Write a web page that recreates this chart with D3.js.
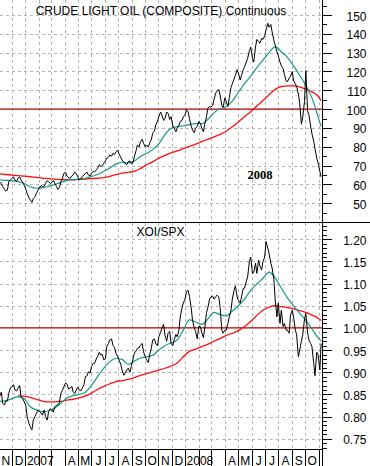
<!DOCTYPE html>
<html><head><meta charset="utf-8">
<script src="https://cdn.jsdelivr.net/npm/d3@7"></script>
<style>body{margin:0;background:#fff}svg{display:block}</style>
</head><body><svg id="c" width="370" height="466"></svg>
<script>
// ---------- data (twice-weekly readings from the picture) ----------
const dates = ["2006-11-03",
"2006-11-07","2006-11-10","2006-11-14","2006-11-17","2006-11-21","2006-11-24","2006-11-28","2006-12-01",
"2006-12-05","2006-12-08","2006-12-12","2006-12-15","2006-12-19","2006-12-22","2006-12-26","2006-12-29",
"2007-01-02","2007-01-05","2007-01-09","2007-01-12","2007-01-16","2007-01-19","2007-01-23","2007-01-26",
"2007-01-30","2007-02-02","2007-02-06","2007-02-09","2007-02-13","2007-02-16","2007-02-20","2007-02-23",
"2007-02-27","2007-03-02","2007-03-06","2007-03-09","2007-03-13","2007-03-16","2007-03-20","2007-03-23",
"2007-03-27","2007-03-30","2007-04-03","2007-04-06","2007-04-10","2007-04-13","2007-04-17","2007-04-20",
"2007-04-24","2007-04-27","2007-05-01","2007-05-04","2007-05-08","2007-05-11","2007-05-15","2007-05-18",
"2007-05-22","2007-05-25","2007-05-29","2007-06-01","2007-06-05","2007-06-08","2007-06-12","2007-06-15",
"2007-06-19","2007-06-22","2007-06-26","2007-06-29","2007-07-03","2007-07-06","2007-07-10","2007-07-13",
"2007-07-17","2007-07-20","2007-07-24","2007-07-27","2007-07-31","2007-08-03","2007-08-07","2007-08-10",
"2007-08-14","2007-08-17","2007-08-21","2007-08-24","2007-08-28","2007-08-31","2007-09-04","2007-09-07",
"2007-09-11","2007-09-14","2007-09-18","2007-09-21","2007-09-25","2007-09-28","2007-10-02","2007-10-05",
"2007-10-09","2007-10-12","2007-10-16","2007-10-19","2007-10-23","2007-10-26","2007-10-30","2007-11-02",
"2007-11-06","2007-11-09","2007-11-13","2007-11-16","2007-11-20","2007-11-23","2007-11-27","2007-11-30",
"2007-12-04","2007-12-07","2007-12-11","2007-12-14","2007-12-18","2007-12-21","2007-12-25","2007-12-28",
"2008-01-01","2008-01-04","2008-01-08","2008-01-11","2008-01-15","2008-01-18","2008-01-22","2008-01-25",
"2008-01-29","2008-02-01","2008-02-05","2008-02-08","2008-02-12","2008-02-15","2008-02-19","2008-02-22",
"2008-02-26","2008-02-29","2008-03-04","2008-03-07","2008-03-11","2008-03-14","2008-03-18","2008-03-21",
"2008-03-25","2008-03-28","2008-04-01","2008-04-04","2008-04-08","2008-04-11","2008-04-15","2008-04-18",
"2008-04-22","2008-04-25","2008-04-29","2008-05-02","2008-05-06","2008-05-09","2008-05-13","2008-05-16",
"2008-05-20","2008-05-23","2008-05-27","2008-05-30","2008-06-03","2008-06-06","2008-06-10","2008-06-13",
"2008-06-17","2008-06-20","2008-06-24","2008-06-27","2008-07-01","2008-07-04","2008-07-08","2008-07-11",
"2008-07-15","2008-07-18","2008-07-22","2008-07-25","2008-07-29","2008-08-01","2008-08-05","2008-08-08",
"2008-08-12","2008-08-15","2008-08-19","2008-08-22","2008-08-26","2008-08-29","2008-09-02","2008-09-05",
"2008-09-09","2008-09-12","2008-09-16","2008-09-19","2008-09-23","2008-09-26","2008-09-30","2008-10-03",
"2008-10-07","2008-10-10","2008-10-14","2008-10-17","2008-10-21","2008-10-24","2008-10-28","2008-10-31",
"2008-11-04","2008-11-07"];

const oil = [61.5,
60.5,58.9,57.5,56.5,57.0,61.5,62.5,63.3,
64.0,62.4,61.5,63.3,64.0,62.4,61.0,59.7,
57.5,55.3,53.0,51.8,50.5,52.5,53.5,55.3,
57.0,58.0,59.5,58.9,59.0,60.6,62.0,61.5,
60.5,61.0,62.0,60.6,59.0,57.4,58.5,61.5,
63.5,65.9,66.5,64.5,63.5,63.3,64.5,65.0,
66.5,65.9,64.0,62.4,63.0,64.2,65.0,65.9,
66.5,65.0,64.5,65.9,67.0,66.8,67.5,68.6,
70.5,69.5,70.0,71.2,72.5,73.9,74.5,75.7,
75.0,76.5,76.0,77.4,78.2,76.2,74.5,73.0,
71.8,71.2,70.5,72.1,72.5,71.2,71.5,74.8,
78.0,81.0,80.0,82.7,84.0,81.9,80.0,81.0,
79.8,81.9,84.0,87.2,88.5,91.6,93.5,96.0,
98.5,96.9,94.0,95.1,98.5,97.8,94.5,96.0,
91.0,89.8,88.0,89.8,91.5,93.4,94.0,96.0,
97.0,99.6,98.5,95.1,91.0,88.9,87.5,89.8,
91.0,93.4,92.5,90.0,88.0,92.0,96.0,100.5,
101.5,101.0,102.0,105.0,108.5,109.5,110.5,107.5,
102.0,101.0,106.0,104.0,101.5,106.0,111.5,113.5,
116.0,118.0,121.0,119.0,115.5,118.0,121.0,122.5,
125.0,127.0,131.0,133.0,127.0,125.0,133.0,137.0,
136.0,135.0,137.5,137.0,139.0,142.0,145.6,143.5,
145.0,141.0,136.5,134.0,130.5,128.5,125.0,123.0,
121.5,118.5,115.0,114.6,116.5,117.3,120.0,115.0,
113.5,112.0,108.0,103.0,92.0,96.0,104.0,120.5,
99.0,97.0,91.0,87.0,83.0,79.0,74.0,71.5,
67.0,64.0];

const xoiSpx = [0.845,
0.855,0.830,0.826,0.834,0.835,0.852,0.865,0.867,
0.872,0.860,0.858,0.864,0.870,0.845,0.840,0.834,
0.825,0.800,0.785,0.777,0.770,0.792,0.800,0.807,
0.815,0.811,0.808,0.803,0.815,0.800,0.792,0.811,
0.818,0.815,0.810,0.822,0.825,0.826,0.832,0.852,
0.860,0.867,0.876,0.873,0.862,0.864,0.868,0.856,
0.852,0.860,0.866,0.860,0.858,0.864,0.872,0.890,
0.892,0.901,0.898,0.913,0.920,0.920,0.930,0.935,
0.945,0.939,0.940,0.928,0.930,0.958,0.965,0.973,
0.975,0.961,0.955,0.943,0.935,0.928,0.918,0.905,
0.893,0.898,0.905,0.909,0.900,0.913,0.930,0.943,
0.948,0.954,0.955,0.961,0.965,0.946,0.935,0.928,
0.922,0.939,0.955,0.973,0.975,0.965,0.960,0.980,
0.990,0.999,1.008,0.984,0.970,0.988,0.992,0.965,
0.960,0.973,0.985,0.980,0.995,1.025,1.045,1.056,
1.065,1.082,1.085,1.071,1.045,1.018,1.000,0.992,
0.975,1.003,1.003,0.990,0.978,1.000,1.035,1.045,
1.065,1.070,1.072,1.065,1.070,1.074,1.070,1.048,
0.995,0.988,0.995,0.995,1.010,1.025,1.040,1.065,
1.085,1.095,1.070,1.062,1.056,1.070,1.089,1.090,
1.105,1.115,1.150,1.160,1.123,1.125,1.146,1.123,
1.153,1.140,1.131,1.150,1.160,1.195,1.180,1.168,
1.146,1.135,1.110,1.063,1.025,1.056,1.010,1.040,
1.003,1.010,0.995,0.995,0.988,1.029,1.040,1.025,
0.995,0.985,0.935,0.950,0.970,0.985,1.020,1.033,
0.990,0.973,0.965,0.958,0.920,0.892,0.945,0.940,
0.905,0.965];

// moving averages, read every two weeks
const maDates = ["2006-11-03","2006-11-17","2006-12-01","2006-12-15","2006-12-29","2007-01-12","2007-01-26","2007-02-09","2007-02-23","2007-03-09","2007-03-23","2007-04-06","2007-04-20","2007-05-04","2007-05-18","2007-06-01","2007-06-15","2007-06-29","2007-07-13","2007-07-27","2007-08-10","2007-08-24","2007-09-07","2007-09-21","2007-10-05","2007-10-19","2007-11-02","2007-11-16","2007-11-30","2007-12-14","2007-12-28","2008-01-11","2008-01-25","2008-02-08","2008-02-22","2008-03-07","2008-03-21","2008-04-04","2008-04-18","2008-05-02","2008-05-16","2008-05-30","2008-06-13","2008-06-27","2008-07-11","2008-07-25","2008-08-08","2008-08-22","2008-09-05","2008-09-19","2008-10-03","2008-10-17","2008-10-31","2008-11-07"];

const oilMaShort = [62.4,62.2,62.0,61.5,60.5,58.8,58.0,58.2,59.0,60.0,61.0,62.2,62.6,62.8,63.3,64.2,65.3,67.0,68.8,70.8,71.8,71.5,72.5,74.8,76.5,78.5,81.5,86.5,89.8,90.7,91.2,91.8,92.3,92.3,94.5,98.0,100.3,101.3,104.3,109.0,113.5,117.5,122.0,126.0,130.0,133.2,130.5,127.5,123.0,118.0,112.5,106.0,96.0,90.7];
const oilMaLong = [65.6,65.3,65.0,64.7,64.4,64.1,63.8,63.4,63.1,62.8,62.6,62.5,62.5,62.7,62.9,63.1,63.3,63.6,64.3,65.2,66.0,66.5,67.0,68.5,70.5,72.0,74.0,75.5,76.8,77.8,79.0,80.2,81.4,82.7,84.0,85.3,86.6,88.3,90.6,93.2,96.0,98.6,101.7,104.6,107.6,110.5,112.0,112.4,112.4,111.8,110.6,109.2,107.0,104.5];
const ratioMaShort = [0.834,0.836,0.840,0.845,0.840,0.822,0.815,0.811,0.813,0.819,0.830,0.842,0.847,0.850,0.855,0.870,0.890,0.909,0.924,0.931,0.929,0.918,0.925,0.932,0.935,0.938,0.950,0.960,0.966,0.973,0.995,1.018,1.014,1.008,1.020,1.035,1.030,1.027,1.038,1.050,1.065,1.085,1.099,1.112,1.126,1.113,1.090,1.068,1.050,1.033,1.017,0.998,0.978,0.970];
const ratioMaLong = [null,null,null,0.846,0.846,0.843,0.839,0.835,0.833,0.833,0.834,0.837,0.839,0.842,0.846,0.853,0.861,0.868,0.874,0.879,0.881,0.884,0.888,0.893,0.897,0.901,0.905,0.909,0.914,0.921,0.935,0.947,0.952,0.958,0.963,0.970,0.976,0.983,0.988,0.994,1.003,1.015,1.028,1.040,1.047,1.050,1.048,1.046,1.043,1.039,1.035,1.029,1.022,1.017];

const oilTicks = [50,60,70,80,90,100,110,120,130,140,150];
const oilMinor = [45,55,65,75,85,95,105,115,125,135,145,155];
const ratioTicks = [0.75,0.80,0.85,0.90,0.95,1.00,1.05,1.10,1.15,1.20];
const ratioMinor = d3.range(73,124).map(d => d/100); // tick marks every 0.01
const monthLabels = ["N","D","2007","","","A","M","J","J","A","S","O","N","D","2008","","","A","M","J","J","A","S","O"];
const oilRef = 100, ratioRef = 1.00;

// ---------- layout ----------
const svg = d3.select("#c");
const PR = 322, T0 = 0, T1 = 222.5, B0 = 222.5, B1 = 449;
const parse = d3.timeParse("%Y-%m-%d");
const x = d3.scaleTime().domain([new Date(2006,10,4), new Date(2008,10,9)]).range([0, PR]);
const yTop = d3.scaleLinear().domain([50,150]).range([203.3,15]);
const yBot = d3.scaleLinear().domain([0.75,1.20]).range([438.7,239.3]);

const defs = svg.append("defs");
defs.append("clipPath").attr("id","cTop").append("rect").attr("x",0).attr("y",T0).attr("width",PR).attr("height",T1-T0);
defs.append("clipPath").attr("id","cBot").append("rect").attr("x",0).attr("y",B0).attr("width",PR).attr("height",B1-B0);

const months = d3.timeMonth.range(new Date(2006,11,1), new Date(2008,10,2));
const gridCol = "#b4b4b4";

function panel(y, y0, y1, ticks, clip, ref, price, maS, maL){
  const g = svg.append("g").attr("clip-path", `url(#${clip})`);
  g.selectAll(".vg").data(months).enter().append("line")
    .attr("x1", d => Math.round(x(d))+0.5).attr("x2", d => Math.round(x(d))+0.5)
    .attr("y1", y0).attr("y2", y1)
    .attr("stroke", gridCol).attr("stroke-dasharray","3,3").attr("shape-rendering","crispEdges");
  g.selectAll(".hg").data(ticks.filter(t => t !== ref)).enter().append("line")
    .attr("x1", 0).attr("x2", PR)
    .attr("y1", d => Math.round(y(d))+0.5).attr("y2", d => Math.round(y(d))+0.5)
    .attr("stroke", gridCol).attr("stroke-dasharray","3,3").attr("shape-rendering","crispEdges");
  g.append("line").attr("x1",0).attr("x2",PR).attr("y1",y(ref)).attr("y2",y(ref))
    .attr("stroke","#b00000").attr("stroke-width",1.3);
  const lp = d3.line().x(d => x(d[0])).y(d => y(d[1])).defined(d => d[1] != null);
  const lm = d3.line().x(d => x(d[0])).y(d => y(d[1])).defined(d => d[1] != null).curve(d3.curveMonotoneX);
  g.append("path").datum(maDates.map((d,i) => [parse(d), maL[i]]))
    .attr("d", lm).attr("fill","none").attr("stroke","#ff1010").attr("stroke-width",1.3);
  g.append("path").datum(maDates.map((d,i) => [parse(d), maS[i]]))
    .attr("d", lm).attr("fill","none").attr("stroke","#16998a").attr("stroke-width",1.2);
  g.append("path").datum(dates.map((d,i) => [parse(d), price[i]]))
    .attr("d", lp).attr("fill","none").attr("stroke","#000").attr("stroke-width",1);
}

panel(yTop, T0, T1, oilTicks, "cTop", oilRef, oil, oilMaShort, oilMaLong);
panel(yBot, B0, B1, ratioTicks, "cBot", ratioRef, xoiSpx, ratioMaShort, ratioMaLong);

function rightAxis(y, major, minor, fmt){
  const gm = svg.append("g").attr("transform",`translate(${PR+0.5},0)`);
  gm.call(d3.axisRight(y).tickValues(minor).tickSize(4).tickFormat(""));
  gm.select(".domain").remove();
  const g = svg.append("g").attr("transform",`translate(${PR+0.5},0)`);
  g.call(d3.axisRight(y).tickValues(major).tickSize(9).tickFormat(fmt));
  g.select(".domain").remove();
  g.selectAll("text").attr("x",44).attr("dy","5px").attr("text-anchor","end")
    .attr("font-family","Liberation Sans, Arial, sans-serif").attr("font-size",12).attr("fill","#000");
  svg.selectAll(".tick line").attr("stroke","#000").attr("shape-rendering","crispEdges");
}
rightAxis(yTop, oilTicks, oilMinor, d3.format("d"));
rightAxis(yBot, ratioTicks, ratioMinor, d3.format(".2f"));

svg.append("line").attr("x1",PR+0.5).attr("x2",PR+0.5).attr("y1",0).attr("y2",466).attr("stroke","#000").attr("shape-rendering","crispEdges");
svg.append("line").attr("x1",0).attr("x2",370).attr("y1",222.5).attr("y2",222.5).attr("stroke","#000").attr("shape-rendering","crispEdges");
svg.append("line").attr("x1",0).attr("x2",PR).attr("y1",449.5).attr("y2",449.5).attr("stroke","#000").attr("shape-rendering","crispEdges");

const ga = svg.append("g").attr("transform","translate(0.5,449.5)");
ga.call(d3.axisBottom(x).tickValues(months).tickSize(17).tickFormat(""));
ga.select(".domain").remove();
ga.selectAll(".tick line").attr("stroke","#000").attr("shape-rendering","crispEdges");
ga.selectAll(".tick").attr("transform", d => `translate(${Math.round(x(d))},0)`);

const monthStarts = d3.timeMonth.range(new Date(2006,10,1), new Date(2008,9,2));
svg.append("g").selectAll("text").data(monthStarts).enter().append("text")
  .text((d,i) => monthLabels[i])
  .attr("x", (d,i) => monthLabels[i].length > 1 ? x(d) + 1.5 : (x(d) + x(d3.timeMonth.offset(d,1)))/2 + 0.5)
  .attr("y", 464.5)
  .attr("text-anchor", (d,i) => monthLabels[i].length > 1 ? "start" : "middle")
  .attr("font-family","Liberation Sans, Arial, sans-serif").attr("font-size",12).attr("fill","#000");

svg.append("text").text("CRUDE LIGHT OIL (COMPOSITE) Continuous")
  .attr("x",161).attr("y",15).attr("text-anchor","middle")
  .attr("font-family","Liberation Sans, Arial, sans-serif").attr("font-size",12).attr("fill","#000");
svg.append("text").text("XOI/SPX")
  .attr("x",160.5).attr("y",235.5).attr("text-anchor","middle")
  .attr("font-family","Liberation Sans, Arial, sans-serif").attr("font-size",12).attr("fill","#000");
svg.append("text").text("2008")
  .attr("x",260).attr("y",178.5).attr("text-anchor","middle")
  .attr("font-family","Liberation Serif, Times New Roman, serif").attr("font-weight","bold").attr("font-size",12.5).attr("fill","#000");
</script></body></html>
